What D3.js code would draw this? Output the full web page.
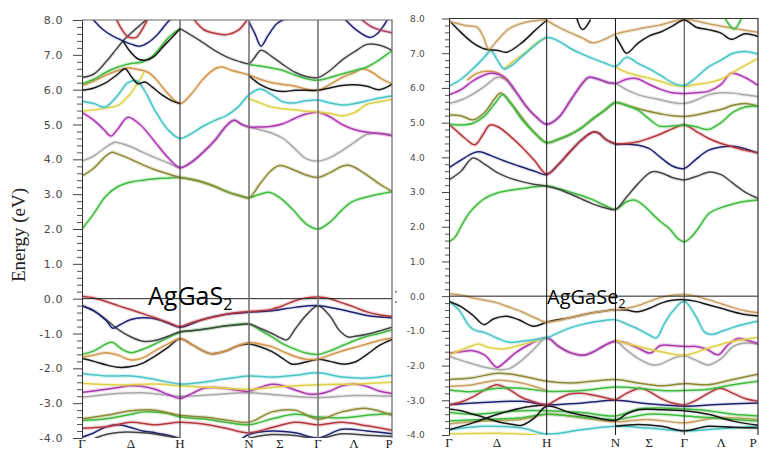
<!DOCTYPE html>
<html><head><meta charset="utf-8">
<script src="https://cdn.jsdelivr.net/npm/d3@7/dist/d3.min.js"></script>
<style>body{margin:0;background:#fff}svg{display:block}</style>
</head><body><svg id="c" width="759" height="450"></svg>
<script>
// ---------- k-path & ticks ----------
const kSymmetry = [0, 98, 167, 236, 310];            // Γ H N Γ P
const kLabelNames = ["Γ","Δ","H","N","Σ","Γ","Λ","P"];
const kLabelPosS  = [0, 49, 98, 167, 198, 236, 272, 307];
const kLabelPosSe = [0, 48, 98, 167, 201, 236, 273, 305];
const energyTicks = [8,7,6,5,4,3,2,1,0,-1,-2,-3,-4];
const minorTicks = d3.range(-40, 81, 2).map(v => v/10).filter(v => Math.abs(v - Math.round(v)) > 1e-6);

// ---------- AgGaS2 bands (k, E pairs) ----------
const S_c_green1 = [0,2.0, 12,2.45, 24,2.95, 36,3.22, 49,3.35, 61,3.4, 73,3.44, 86,3.46, 98,3.48, 110,3.42, 121,3.34, 133,3.22, 144,3.08, 156,2.97, 167,2.9, 178,3.0, 188,3.05, 200,2.85, 211,2.55, 224,2.15, 236,2.0, 248,2.2, 260,2.55, 270,2.78, 285,2.92, 297,3.0, 310,3.07];
const S_c_olive  = [0,3.52, 12,3.75, 24,4.1, 30,4.2, 36,4.15, 49,4.0, 61,3.84, 73,3.7, 86,3.58, 98,3.48, 110,3.42, 121,3.34, 133,3.22, 144,3.08, 156,2.97, 167,2.9, 178,3.3, 190,3.7, 198,3.82, 213,3.68, 224,3.55, 236,3.48, 248,3.62, 260,3.8, 268,3.82, 285,3.55, 297,3.3, 310,3.08];
const S_c_grey   = [0,3.95, 12,4.1, 24,4.35, 33,4.49, 40,4.45, 49,4.36, 61,4.2, 73,4.05, 86,3.9, 98,3.76, 110,3.93, 121,4.2, 133,4.55, 144,4.95, 152,5.12, 160,5.0, 167,4.93, 178,4.85, 190,4.75, 201,4.6, 213,4.3, 224,4.02, 236,3.95, 248,4.05, 260,4.25, 273,4.5, 285,4.72, 297,4.75, 310,4.7];
const S_c_magenta= [0,5.35, 12,5.12, 22,4.85, 29,4.67, 36,4.88, 46,5.21, 58,5.0, 73,4.5, 86,4.05, 98,3.76, 110,3.93, 121,4.2, 133,4.55, 144,4.95, 152,5.12, 160,5.0, 167,4.93, 178,4.93, 190,4.95, 201,5.02, 213,5.18, 224,5.3, 236,5.35, 248,5.22, 260,5.0, 273,4.85, 285,4.78, 297,4.74, 310,4.68];
const S_c_cyan   = [0,5.67, 12,5.6, 23,5.5, 36,5.85, 46,6.2, 55,6.25, 63,5.95, 73,5.4, 86,4.85, 98,4.6, 110,4.75, 121,4.95, 133,5.12, 144,5.25, 156,5.5, 167,5.85, 178,6.02, 190,5.85, 201,5.65, 213,5.62, 224,5.68, 236,5.7, 248,5.62, 260,5.56, 273,5.6, 285,5.68, 297,5.76, 310,5.82];
const S_c_yellowA= [0,5.38, 12,5.42, 24,5.47, 36,5.55, 46,5.8, 55,6.15, 62,6.5];
const S_c_yellowB= [167,5.74, 178,5.62, 190,5.5, 201,5.45, 213,5.42, 224,5.38, 236,5.36, 248,5.32, 260,5.25, 273,5.35, 285,5.58, 297,5.65, 310,5.72];
const S_c_orange = [0,6.12, 12,6.25, 24,6.42, 36,6.55, 46,6.62, 56,6.58, 66,6.5, 74,6.3, 84,5.95, 98,5.6, 110,5.9, 121,6.3, 133,6.6, 140,6.65, 150,6.55, 167,6.42, 178,6.3, 190,6.2, 201,6.15, 213,6.1, 224,6.02, 236,5.98, 248,6.15, 260,6.35, 273,6.5, 280,6.6, 290,6.5, 300,6.3, 310,6.17];
const S_c_green2 = [0,6.17, 12,6.3, 24,6.5, 36,6.65, 49,6.75, 61,6.8, 70,6.95, 78,7.2, 86,7.48, 98,7.75];
const S_c_green3 = [167,6.72, 178,6.68, 190,6.62, 201,6.55, 213,6.42, 224,6.32, 236,6.27, 248,6.35, 260,6.45, 273,6.55, 285,6.65, 297,6.85, 310,7.12];
const S_c_black1 = [0,5.98, 12,6.05, 24,6.2, 36,6.45, 43,6.6, 50,6.35, 56,6.17, 63,6.22, 70,6.08, 80,5.85, 90,5.68, 98,5.6];
const S_c_black2 = [167,6.4, 178,6.15, 190,6.0, 201,5.95, 213,5.98, 224,5.98, 236,5.98, 248,6.05, 260,6.12, 273,6.14, 285,6.1, 297,6.0, 310,6.15];
const S_c_dark   = [98,7.75, 110,7.55, 121,7.35, 133,7.12, 144,6.95, 156,6.82, 167,6.75, 172,6.9, 179,7.13, 190,6.95, 201,6.72, 213,6.5, 224,6.38, 236,6.35, 248,6.55, 260,6.85, 273,7.1, 285,7.3, 297,7.28, 310,7.13];
const S_c_darkgrey=[0,6.35, 12,6.45, 24,6.8, 34,7.15, 41,7.4, 50,7.65, 60,7.9, 66,8.05];
const S_c_navy   = [10,8.05, 20,7.75, 30,7.55, 41,7.4, 50,7.3, 58,7.25, 66,7.35, 76,7.6, 86,7.95, 90,8.05];
const S_c_blackTop=[41,7.4, 48,7.1, 56,6.88, 64,6.85, 72,6.95, 80,7.2, 90,7.5, 98,7.75];
const S_c_red1   = [34,8.05, 40,7.72, 46,7.52, 54,7.5, 60,7.72, 66,8.05];
const S_c_red2   = [111,8.05, 122,7.72, 133,7.62, 145,7.58, 156,7.7, 165,8.0];
const S_c_navy2  = [167,7.95, 173,7.6, 179,7.25, 186,7.55, 195,7.9, 205,8.05];
const S_c_navy3  = [262,8.05, 275,7.7, 288,7.5, 295,7.6, 302,7.85, 306,8.05];
const S_c_pink3  = [278,8.05, 290,7.8, 300,7.7, 310,7.63];

const S_v_red    = [0,0.07, 12,0.02, 24,-0.08, 36,-0.2, 49,-0.32, 61,-0.43, 73,-0.55, 86,-0.68, 98,-0.8, 110,-0.68, 121,-0.6, 133,-0.52, 144,-0.45, 156,-0.4, 167,-0.37, 178,-0.35, 190,-0.3, 201,-0.2, 213,-0.06, 224,0.02, 236,0.05, 248,0.0, 260,-0.12, 273,-0.25, 285,-0.38, 297,-0.46, 310,-0.51];
const S_v_navy   = [0,-0.2, 12,-0.35, 24,-0.62, 31,-0.85, 38,-0.75, 49,-0.6, 61,-0.55, 73,-0.58, 86,-0.7, 98,-0.82, 121,-0.6, 144,-0.45, 167,-0.39, 190,-0.35, 213,-0.25, 236,-0.2, 260,-0.32, 285,-0.48, 310,-0.55];
const S_v_dark   = [0,-0.2, 12,-0.35, 24,-0.6, 36,-0.88, 49,-1.1, 61,-1.22, 73,-1.2, 86,-1.08, 98,-0.95, 110,-0.92, 121,-0.88, 133,-0.83, 144,-0.78, 156,-0.75, 167,-0.73, 178,-0.85, 190,-1.0, 198,-1.12, 205,-1.18, 213,-0.88, 224,-0.48, 236,-0.2, 248,-0.5, 257,-0.9, 266,-1.1, 273,-1.08, 285,-1.02, 297,-0.93, 310,-0.82];
const S_v_green  = [0,-1.6, 12,-1.5, 24,-1.3, 30,-1.25, 40,-1.45, 49,-1.55, 61,-1.45, 73,-1.3, 86,-1.12, 98,-0.97, 121,-0.88, 144,-0.78, 167,-0.73, 178,-0.9, 190,-1.1, 201,-1.3, 213,-1.45, 224,-1.56, 236,-1.6, 248,-1.5, 260,-1.35, 273,-1.2, 285,-1.08, 297,-1.0, 310,-0.9];
const S_v_orange = [0,-1.68, 12,-1.62, 24,-1.55, 36,-1.62, 49,-1.76, 61,-1.7, 73,-1.5, 86,-1.3, 98,-1.15, 110,-1.32, 121,-1.5, 129,-1.58, 144,-1.5, 156,-1.35, 167,-1.26, 178,-1.3, 190,-1.38, 201,-1.52, 213,-1.66, 224,-1.74, 236,-1.73, 248,-1.62, 260,-1.5, 273,-1.4, 285,-1.3, 297,-1.2, 310,-1.13];
const S_v_black  = [0,-1.72, 12,-1.8, 24,-1.9, 36,-1.97, 49,-1.95, 61,-1.85, 73,-1.65, 86,-1.4, 98,-1.15, 110,-1.32, 121,-1.5, 129,-1.58, 144,-1.5, 156,-1.35, 167,-1.3, 178,-1.38, 190,-1.52, 201,-1.72, 210,-1.88, 224,-1.82, 236,-1.74, 248,-1.8, 262,-1.88, 273,-1.82, 285,-1.6, 297,-1.35, 310,-1.17];
const S_v_cyan   = [0,-2.15, 24,-2.22, 49,-2.22, 73,-2.32, 98,-2.45, 121,-2.4, 144,-2.3, 167,-2.22, 190,-2.25, 213,-2.2, 236,-2.13, 260,-2.25, 285,-2.28, 310,-2.2];
const S_v_yellow = [0,-2.43, 36,-2.48, 73,-2.45, 98,-2.5, 133,-2.55, 167,-2.6, 201,-2.52, 236,-2.47, 273,-2.45, 310,-2.4];
const S_v_magenta= [0,-2.69, 12,-2.65, 24,-2.6, 36,-2.55, 49,-2.5, 61,-2.52, 73,-2.6, 86,-2.75, 98,-2.86, 110,-2.72, 121,-2.58, 133,-2.55, 144,-2.58, 156,-2.63, 167,-2.66, 178,-2.55, 190,-2.46, 201,-2.5, 213,-2.62, 224,-2.72, 236,-2.74, 248,-2.65, 260,-2.5, 273,-2.45, 285,-2.52, 297,-2.65, 310,-2.72];
const S_v_grey   = [0,-2.83, 36,-2.72, 61,-2.7, 98,-2.8, 133,-2.75, 167,-2.7, 201,-2.78, 236,-2.84, 273,-2.78, 310,-2.8];
const S_v_olive  = [0,-3.45, 24,-3.35, 49,-3.22, 73,-3.2, 98,-3.35, 121,-3.4, 144,-3.48, 167,-3.55, 190,-3.25, 213,-3.2, 236,-3.46, 260,-3.25, 285,-3.15, 310,-3.35];
const S_v_green2 = [0,-3.5, 24,-3.45, 49,-3.32, 61,-3.25, 86,-3.3, 98,-3.4, 121,-3.45, 144,-3.55, 167,-3.62, 190,-3.45, 213,-3.32, 236,-3.4, 260,-3.42, 285,-3.35, 310,-3.3];
const S_v_red2   = [0,-3.72, 24,-3.68, 49,-3.55, 73,-3.62, 98,-3.55, 121,-3.6, 144,-3.72, 167,-3.85, 190,-3.7, 213,-3.55, 236,-3.62, 260,-3.55, 285,-3.65, 310,-3.78];
const S_v_navy2  = [0,-3.98, 12,-3.85, 24,-3.68, 36,-3.62, 49,-3.7, 61,-3.8, 73,-3.85, 86,-3.92, 98,-4.02];
const S_v_navy3  = [160,-4.02, 167,-3.9, 190,-3.8, 213,-3.85, 236,-4.0, 260,-3.75, 285,-3.8, 310,-3.88];
const S_v_dark2  = [12,-4.02, 24,-3.9, 36,-3.84, 61,-3.85, 80,-3.92, 98,-4.02];
const S_v_dark3  = [167,-4.0, 190,-3.9, 213,-3.93, 236,-4.02, 260,-3.88, 285,-3.92, 310,-3.96];

// ---------- AgGaSe2 bands (k, E pairs) ----------
const E_c_green1 = [0,1.57, 6,1.7, 12,2.0, 18,2.3, 24,2.52, 36,2.82, 49,2.98, 61,3.05, 73,3.1, 86,3.15, 98,3.18, 110,3.1, 121,3.0, 133,2.9, 144,2.78, 156,2.62, 167,2.5, 178,2.72, 186,2.77, 195,2.62, 203,2.4, 212,2.15, 221,1.95, 230,1.65, 236,1.57, 243,1.7, 250,1.95, 261,2.39, 273,2.55, 288,2.68, 300,2.74, 310,2.77];
const E_c_dark   = [0,3.35, 12,3.6, 24,3.98, 36,3.8, 49,3.55, 61,3.4, 73,3.3, 86,3.22, 98,3.17, 110,3.08, 121,2.95, 133,2.8, 144,2.66, 156,2.55, 167,2.5, 178,2.85, 190,3.25, 203,3.58, 213,3.55, 224,3.42, 236,3.35, 248,3.45, 262,3.58, 273,3.5, 285,3.25, 297,3.0, 310,2.82];
const E_c_navy   = [0,3.7, 12,3.92, 24,4.12, 31,4.16, 42,4.05, 55,3.9, 70,3.75, 86,3.6, 98,3.5, 110,3.8, 121,4.15, 133,4.5, 144,4.72, 150,4.7, 158,4.5, 167,4.38, 178,4.38, 190,4.35, 201,4.25, 213,3.98, 224,3.75, 236,3.68, 248,3.95, 260,4.2, 273,4.3, 285,4.32, 297,4.25, 310,4.12];
const E_c_red    = [0,4.95, 8,4.75, 16,4.55, 26,4.36, 34,4.65, 41,4.93, 49,4.88, 61,4.62, 73,4.3, 86,3.9, 98,3.52, 110,3.8, 121,4.15, 133,4.5, 144,4.72, 150,4.7, 158,4.5, 167,4.4, 178,4.4, 190,4.45, 201,4.55, 213,4.68, 224,4.82, 236,4.93, 248,4.75, 260,4.55, 273,4.4, 285,4.3, 297,4.2, 310,4.13];
const E_c_olive  = [0,5.22, 12,5.2, 24,5.08, 36,5.3, 46,5.7, 52,5.85, 61,5.6, 73,5.15, 86,4.7, 98,4.42, 110,4.52, 121,4.65, 133,4.85, 144,5.1, 156,5.35, 167,5.58, 178,5.5, 190,5.4, 201,5.32, 213,5.25, 224,5.2, 236,5.18, 248,5.22, 260,5.3, 273,5.38, 285,5.5, 297,5.55, 310,5.48];
const E_c_green2 = [0,4.95, 12,4.93, 24,4.98, 36,5.2, 46,5.55, 54,5.8, 62,5.55, 73,5.1, 86,4.7, 98,4.42, 110,4.52, 121,4.65, 133,4.85, 144,5.1, 156,5.35, 167,5.58, 178,5.5, 190,5.35, 201,5.1, 211,4.9, 224,4.9, 236,4.93, 248,4.88, 260,4.8, 273,5.0, 285,5.3, 297,5.45, 310,5.47];
const E_c_grey   = [0,5.55, 12,5.65, 24,5.82, 36,6.05, 48,6.3, 56,6.25, 66,5.9, 78,5.45, 88,5.15, 98,4.95, 110,5.15, 121,5.6, 133,6.1, 140,6.3, 150,6.25, 160,6.15, 167,6.13, 178,5.95, 190,5.8, 201,5.72, 213,5.65, 224,5.58, 236,5.55, 248,5.65, 260,5.8, 273,5.86, 285,5.85, 297,5.8, 310,5.75];
const E_c_magenta= [0,5.8, 12,5.95, 24,6.2, 36,6.38, 44,6.42, 56,6.3, 66,5.95, 78,5.45, 88,5.15, 98,4.95, 110,5.15, 121,5.6, 133,6.1, 140,6.3, 150,6.25, 160,6.15, 167,6.13, 178,6.25, 188,6.27, 201,6.1, 213,5.95, 224,5.86, 236,5.84, 248,5.86, 260,5.9, 273,6.1, 283,6.42, 297,6.3, 310,6.07];
const E_c_orange = [18,6.22, 28,6.42, 38,6.48, 48,6.44, 58,6.22];
const E_c_cyan   = [0,6.05, 12,6.25, 24,6.55, 36,6.9, 42,7.08, 49,6.78, 55,6.55, 63,6.65, 73,6.9, 86,7.22, 98,7.45, 110,7.35, 121,7.15, 133,6.98, 144,6.85, 156,6.72, 167,6.62, 178,6.88, 190,6.7, 201,6.55, 213,6.35, 224,6.15, 236,6.07, 248,6.3, 260,6.6, 273,6.8, 285,7.0, 297,7.05, 310,6.97];
const E_c_yellowA= [55,6.55, 66,6.8, 78,7.05, 88,7.3, 98,7.45];
const E_c_yellowB= [167,6.6, 178,6.45, 190,6.35, 201,6.28, 213,6.18, 224,6.08, 236,6.04, 248,6.1, 260,6.15, 273,6.25, 285,6.45, 297,6.65, 310,6.85];
const E_c_black  = [0,7.95, 12,7.6, 24,7.3, 36,7.12, 49,7.08, 58,7.03, 73,7.3, 86,7.65, 98,7.95];
const E_c_tanA   = [0,7.92, 16,7.8, 28,7.75, 34,7.5, 40,7.12, 48,7.35, 60,7.7, 75,7.88, 98,7.97];
const E_c_tanB   = [98,7.95, 110,7.75, 121,7.6, 133,7.45, 144,7.3, 156,7.4, 167,7.55, 190,7.7, 213,7.82, 236,7.98, 260,7.85, 285,7.72, 310,7.6];
const E_c_black2 = [167,7.5, 172,7.25, 178,7.0, 190,7.3, 201,7.5, 213,7.62, 224,7.78, 236,7.96, 248,7.75, 260,7.68, 273,7.58, 283,7.4, 297,7.56, 310,7.48];
const E_c_black3 = [128,8.02, 134,7.68, 142,7.97];
const E_c_green3 = [276,8.05, 286,7.7, 294,8.05];

const E_v_tan    = [0,0.07, 12,0.03, 24,-0.05, 36,-0.12, 49,-0.2, 61,-0.32, 73,-0.45, 86,-0.62, 98,-0.75, 110,-0.7, 121,-0.62, 133,-0.55, 144,-0.48, 156,-0.43, 167,-0.39, 178,-0.35, 190,-0.27, 201,-0.15, 213,-0.03, 224,0.03, 236,0.05, 248,0.0, 260,-0.1, 273,-0.22, 285,-0.33, 297,-0.42, 310,-0.48];
const E_v_black  = [0,-0.15, 12,-0.3, 24,-0.55, 35,-0.82, 45,-0.65, 58,-0.58, 70,-0.68, 85,-0.87, 98,-0.75, 121,-0.62, 144,-0.48, 167,-0.39, 178,-0.4, 190,-0.45, 201,-0.35, 213,-0.2, 224,-0.12, 236,-0.1, 248,-0.15, 260,-0.25, 273,-0.35, 285,-0.45, 297,-0.53, 310,-0.57];
const E_v_cyan   = [0,-0.15, 10,-0.4, 20,-0.85, 26,-0.98, 36,-1.05, 49,-1.22, 61,-1.33, 73,-1.3, 86,-1.25, 98,-1.2, 110,-1.05, 121,-0.92, 133,-0.82, 144,-0.75, 156,-0.7, 167,-0.68, 178,-0.8, 190,-0.95, 201,-1.12, 208,-1.2, 216,-0.8, 224,-0.45, 236,-0.15, 248,-0.6, 257,-1.05, 265,-1.1, 273,-1.02, 285,-0.9, 297,-0.8, 310,-0.72];
const E_v_yellowA= [0,-1.69, 12,-1.55, 24,-1.42, 30,-1.38, 40,-1.48, 55,-1.52, 70,-1.42, 85,-1.3, 98,-1.2];
const E_v_yellowB= [167,-1.28, 190,-1.45, 213,-1.6, 236,-1.7, 260,-1.5, 285,-1.3, 310,-1.18];
const E_v_magenta= [0,-1.64, 12,-1.6, 24,-1.57, 36,-1.7, 48,-2.05, 56,-1.9, 66,-1.65, 80,-1.4, 98,-1.2, 110,-1.45, 121,-1.62, 135,-1.7, 145,-1.6, 156,-1.42, 167,-1.3, 178,-1.35, 190,-1.5, 202,-1.64, 212,-1.42, 224,-1.42, 236,-1.45, 248,-1.45, 258,-1.52, 270,-1.69, 280,-1.4, 290,-1.22, 300,-1.28, 310,-1.37];
const E_v_grey   = [0,-1.73, 12,-1.85, 24,-1.95, 36,-2.05, 52,-2.12, 61,-2.08, 73,-1.85, 86,-1.5, 98,-1.2, 110,-1.45, 121,-1.62, 135,-1.7, 145,-1.6, 156,-1.42, 167,-1.3, 178,-1.55, 190,-1.8, 204,-1.98, 213,-1.95, 224,-1.8, 236,-1.72, 248,-1.85, 260,-1.98, 273,-1.8, 285,-1.45, 297,-1.35, 310,-1.38];
const E_v_olive  = [0,-2.4, 24,-2.35, 49,-2.22, 73,-2.3, 98,-2.45, 121,-2.5, 144,-2.45, 167,-2.4, 190,-2.5, 213,-2.58, 236,-2.52, 260,-2.55, 285,-2.4, 310,-2.25];
const E_v_tan2   = [0,-2.6, 24,-2.55, 49,-2.42, 73,-2.5, 98,-2.72];
const E_v_green  = [0,-2.7, 24,-2.75, 49,-2.65, 73,-2.65, 98,-2.74, 133,-2.72, 167,-2.62, 190,-2.65, 213,-2.72, 236,-2.72, 260,-2.68, 285,-2.55, 310,-2.45];
const E_v_red    = [0,-3.13, 12,-3.05, 24,-2.9, 36,-2.7, 48,-2.55, 61,-2.7, 73,-2.92, 86,-3.05, 98,-3.13, 110,-2.95, 121,-2.82, 133,-2.8, 144,-2.85, 156,-2.92, 167,-2.98, 178,-2.8, 192,-2.65, 201,-2.75, 213,-2.95, 224,-3.08, 236,-3.13, 248,-3.0, 260,-2.8, 272,-2.65, 285,-2.8, 297,-2.95, 310,-3.03];
const E_v_navy   = [0,-3.13, 24,-3.08, 49,-3.04, 73,-3.03, 98,-3.13, 121,-3.1, 144,-3.05, 167,-3.0, 200,-3.1, 236,-3.17, 270,-3.12, 310,-3.08];
const E_v_black2 = [0,-3.25, 12,-3.3, 24,-3.4, 36,-3.5, 49,-3.62, 61,-3.68, 73,-3.72, 86,-3.5, 98,-3.17, 121,-3.35, 144,-3.48, 167,-3.58, 178,-3.4, 190,-3.27, 213,-3.27, 236,-3.3, 260,-3.4, 285,-3.6, 310,-3.72];
const E_v_black3 = [0,-3.85, 24,-3.65, 49,-3.4, 73,-3.22, 98,-3.13];
const E_v_black4 = [167,-3.75, 190,-3.7, 213,-3.75, 236,-3.88, 260,-3.75, 285,-3.78, 310,-3.8];
const E_v_green2 = [0,-3.35, 24,-3.4, 49,-3.35, 73,-3.3, 98,-3.3, 133,-3.35, 167,-3.45, 190,-3.25, 213,-3.22, 236,-3.25, 260,-3.3, 285,-3.4, 310,-3.45];
const E_v_green3 = [0,-3.6, 36,-3.55, 73,-3.5, 98,-3.4, 167,-3.55, 200,-3.4, 236,-3.45, 285,-3.55, 310,-3.6];
const E_v_tan3   = [0,-3.68, 36,-3.6, 73,-3.55, 98,-3.4, 133,-3.5, 167,-3.62, 200,-3.55, 236,-3.65, 270,-3.5, 310,-3.55];
const E_v_cyan2  = [0,-3.85, 36,-3.75, 73,-3.8, 98,-3.97, 133,-3.85, 167,-3.75, 200,-3.8, 236,-3.88, 270,-3.82, 310,-3.75];
const E_v_yellow3= [0,-3.97, 50,-3.95, 98,-4.02];

// ---------- band lists (colour key, data) ----------
const S_series = [
  ["navy",S_v_navy2],["dark",S_v_dark2],["navy",S_v_navy3],["dark",S_v_dark3],["red",S_v_red2],["green",S_v_green2],["olive",S_v_olive],
  ["grey",S_v_grey],["magenta",S_v_magenta],["yellow",S_v_yellow],["cyan",S_v_cyan],
  ["black",S_v_black],["orange",S_v_orange],["green",S_v_green],["dark",S_v_dark],["navy",S_v_navy],["red",S_v_red],
  ["green",S_c_green1],["olive",S_c_olive],["grey",S_c_grey],["magenta",S_c_magenta],["yellow",S_c_yellowA],["yellow",S_c_yellowB],
  ["cyan",S_c_cyan],["orange",S_c_orange],["black",S_c_black1],["black",S_c_black2],["green",S_c_green2],["green",S_c_green3],
  ["dark",S_c_dark],["dark",S_c_darkgrey],["navy",S_c_navy],["black",S_c_blackTop],["red",S_c_red1],["red",S_c_red2],
  ["navy",S_c_navy2],["navy",S_c_navy3],["pink",S_c_pink3]
];
const Se_series = [
  ["yellow",E_v_yellow3],["cyan",E_v_cyan2],["tan",E_v_tan3],["green",E_v_green3],["green",E_v_green2],["black",E_v_black4],["black",E_v_black3],
  ["black",E_v_black2],["navy",E_v_navy],["red",E_v_red],["green",E_v_green],["tan",E_v_tan2],["olive",E_v_olive],
  ["grey",E_v_grey],["magenta",E_v_magenta],["yellow",E_v_yellowA],["yellow",E_v_yellowB],["cyan",E_v_cyan],["black",E_v_black],["tan",E_v_tan],
  ["green",E_c_green1],["dark",E_c_dark],["navy",E_c_navy],["red",E_c_red],["olive",E_c_olive],["green",E_c_green2],
  ["grey",E_c_grey],["orange",E_c_orange],["magenta",E_c_magenta],["yellow",E_c_yellowA],["yellow",E_c_yellowB],["cyan",E_c_cyan],
  ["black",E_c_black],["tan",E_c_tanA],["tan",E_c_tanB],["black",E_c_black2],["black",E_c_black3],["green",E_c_green3]
];

// ---------- styles ----------
const palette = {
  red:"#b5363e", pink:"#b03a6a", navy:"#1d2070", dark:"#444444", black:"#161616", green:"#3dbb3d",
  orange:"#d3964a", cyan:"#45c4c6", yellow:"#dfd146", magenta:"#ae36b2", grey:"#a8a8a8",
  olive:"#8b8934", tan:"#c9a061"
};
const haloOpacity = { black:0.08, dark:0.1, navy:0.1 };

const svg = d3.select("#c");
const defs = svg.append("defs");
const toPairs = a => { const r = []; for (let i = 0; i < a.length; i += 2) r.push([a[i], a[i+1]]); return r; };

function drawPanel(cfg) {
  const x = d3.scaleLinear().domain([kSymmetry[0], kSymmetry[4]]).range([cfg.x0, cfg.x1]);
  const y = d3.scaleLinear().domain([-4, 8]).range([cfg.y1, cfg.y0]);
  const g = svg.append("g");
  defs.append("clipPath").attr("id", cfg.id).append("rect")
    .attr("x", cfg.x0).attr("y", cfg.y0).attr("width", cfg.x1 - cfg.x0).attr("height", cfg.y1 - cfg.y0);
  const line = d3.line().x(d => x(d[0])).y(d => y(d[1])).curve(d3.curveCatmullRom.alpha(0.5));
  const bands = g.append("g").attr("clip-path", `url(#${cfg.id})`);
  cfg.series.forEach(([c, arr]) => {
    const p = toPairs(arr);
    bands.append("path").attr("d", line(p)).attr("fill","none").attr("stroke", palette[c])
      .attr("stroke-width", 4).attr("stroke-opacity", haloOpacity[c] ?? 0.2).attr("stroke-linejoin","round");
    bands.append("path").attr("d", line(p)).attr("fill","none").attr("stroke", palette[c])
      .attr("stroke-width", 1.5).attr("stroke-linejoin","round");
  });
  // compound label
  const t = g.append("text").attr("x", cfg.lx).attr("y", cfg.ly)
    .attr("font-family","'Open Sans', 'Noto Sans', sans-serif").attr("font-size", cfg.lsize).attr("fill","#000");
  t.append("tspan").text(cfg.label);
  t.append("tspan").text("2").attr("font-size", cfg.lsize*0.64).attr("dy", cfg.lsize*0.18);
  // Fermi level
  g.append("line").attr("x1", cfg.x0).attr("x2", cfg.x1).attr("y1", y(0)).attr("y2", y(0))
    .attr("stroke","#222").attr("stroke-width",1);
  // symmetry lines
  kSymmetry.slice(1, 4).forEach((k, i) => {
    g.append("line").attr("x1", x(k)).attr("x2", x(k)).attr("y1", cfg.y0).attr("y2", cfg.y1)
      .attr("stroke", cfg.symColors[i]).attr("stroke-width", cfg.symWidths[i]);
  });
  // frame
  g.append("path").attr("d", `M${cfg.x0},${cfg.y0}H${cfg.x1}V${cfg.y1}`).attr("fill","none")
    .attr("stroke", cfg.frame).attr("stroke-width",1.2);
  // axes
  const ax = g.append("g").attr("transform", `translate(${cfg.x0},0)`)
    .call(d3.axisLeft(y).tickValues(energyTicks).tickSize(cfg.tick).tickSizeOuter(0).tickPadding(cfg.pad).tickFormat(d => d.toFixed(1)));
  ax.selectAll("text").attr("font-family","'DejaVu Sans', Verdana, sans-serif").attr("font-size", cfg.fsize).attr("fill","#4a4a4a").attr("letter-spacing", cfg.lsp);
  ax.selectAll("line").attr("stroke","#444");
  ax.select(".domain").attr("stroke","#333");
  const mx = g.append("g").attr("transform", `translate(${cfg.x0},0)`)
    .call(d3.axisLeft(y).tickValues(minorTicks).tickSize(cfg.minor).tickSizeOuter(0).tickFormat(""));
  mx.selectAll("line").attr("stroke","#555");
  mx.select(".domain").remove();
  // k labels
  g.selectAll(".kl").data(kLabelNames).join("text")
    .attr("x", (d, i) => x(cfg.kpos[i])).attr("y", cfg.ky).attr("text-anchor","middle")
    .attr("font-family","'Liberation Serif', 'Times New Roman', serif").attr("font-size", 13).attr("fill","#222")
    .text(d => d);
}

drawPanel({ id:"clipS", x0:82, x1:392, y0:20, y1:438, series:S_series, label:"AgGaS", lx:148, ly:305, lsize:25,
  symColors:["#222","#6e6e6e","#6e6e6e"], symWidths:[1,1.5,1.5], frame:"#666",
  tick:9, minor:5, pad:10, fsize:11, lsp:0.6, kpos:kLabelPosS, ky:448 });
drawPanel({ id:"clipSe", x0:449, x1:758, y0:18.5, y1:435, series:Se_series, label:"AgGaSe", lx:547, ly:304, lsize:20,
  symColors:["#111","#111","#333"], symWidths:[1,1,1], frame:"#333",
  tick:7, minor:4, pad:17, fsize:9, lsp:0.2, kpos:kLabelPosSe, ky:447 });

// small marks right of first panel
svg.append("g").selectAll("circle").data([0.2, -0.1]).join("circle")
  .attr("cx", 396).attr("cy", d => 298.7 - d*34.8).attr("r", 0.9).attr("fill","#666");

// y-axis title
svg.append("text").attr("transform","translate(25,235) rotate(-90)").attr("text-anchor","middle")
  .attr("font-family","'Liberation Serif', 'Times New Roman', serif").attr("font-size",19).attr("fill","#222")
  .text("Energy (eV)");
</script></body></html>
